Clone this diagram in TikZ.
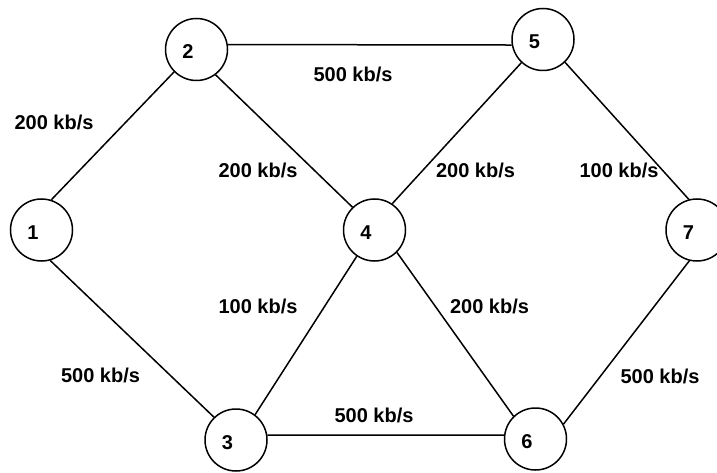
\documentclass[tikz,border=0pt]{standalone}
\usepackage{fontspec}
\setmainfont{Liberation Sans}
\begin{document}
\begin{tikzpicture}[x=1pt,y=-1pt,
  vtx/.style={circle, draw, line width=1.5pt, minimum size=62pt, inner sep=0pt},
  lnk/.style={line width=1.5pt},
  rate/.style={anchor=base, inner sep=0pt, font=\fontsize{20}{24}\selectfont\bfseries},
  num/.style={inner sep=0pt, font=\fontsize{20}{24}\selectfont\bfseries}]
\useasboundingbox (0,0) rectangle (717,473);
\node[vtx, label={[num,xshift=-8.5pt,yshift=-2.3pt]center:1}] (n1) at (41.5,230) {};
\node[vtx, label={[num,xshift=-8.5pt,yshift=-2.3pt]center:2}] (n2) at (196.5,49.5) {};
\node[vtx, label={[num,xshift=-8.5pt,yshift=-2.3pt]center:3}] (n3) at (236,440) {};
\node[vtx, label={[num,xshift=-8.5pt,yshift=-2.3pt]center:4}] (n4) at (374.5,230) {};
\node[vtx, label={[num,xshift=-8.5pt,yshift=-2.3pt]center:5}] (n5) at (543,39.5) {};
\node[vtx, label={[num,xshift=-8.5pt,yshift=-2.3pt]center:6}] (n6) at (535.5,439) {};
\node[vtx, label={[num,xshift=-8.5pt,yshift=-2.3pt]center:7}] (n7) at (697,230) {};

\draw[lnk] (n1.72) -- (n2.225);
\draw[lnk] (n2.9) -- (n5.190);
\draw[lnk] (n2.307) -- (n4.134);
\draw[lnk] (n4.56) -- (n5.227);
\draw[lnk] (n5.314) -- (n7.105);
\draw[lnk] (n1.286) -- (n3.134);
\draw[lnk] (n3.53) -- (n4.236);
\draw[lnk] (n4.315) -- (n6.134);
\draw[lnk] (n3.9) -- (n6.173);
\draw[lnk] (n6.28) -- (n7.256);

\node[rate] (r12) at (54,129.2) {200 kb/s};
\node[rate] (r25) at (353,81.2) {500 kb/s};
\node[rate] (r24) at (258,177.2) {200 kb/s};
\node[rate] (r45) at (475.5,177.9) {200 kb/s};
\node[rate] (r57) at (619,177.2) {100 kb/s};
\node[rate] (r34) at (258,313.2) {100 kb/s};
\node[rate] (r13) at (100.5,382.2) {500 kb/s};
\node[rate] (r36) at (374,422.9) {500 kb/s};
\node[rate] (r46) at (489.5,313.2) {200 kb/s};
\node[rate] (r67) at (660,383.2) {500 kb/s};
\end{tikzpicture}
\end{document}
